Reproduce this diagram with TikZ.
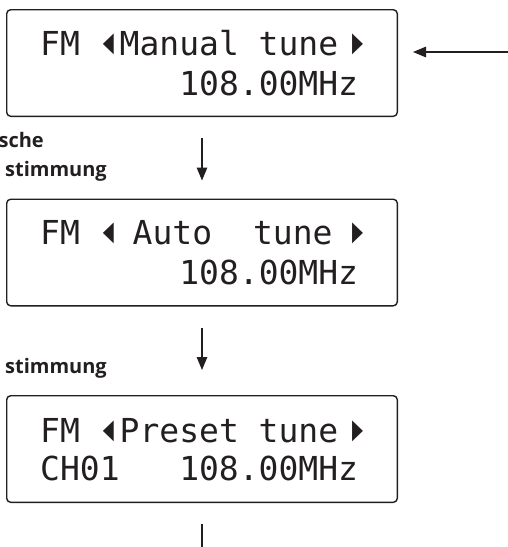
\documentclass[tikz,border=0pt]{standalone}
\usepackage{fontspec}
\usepackage{graphicx}
\usetikzlibrary{arrows.meta}
\newfontfamily\lcdfont{DejaVu Sans Mono}
\newfontfamily\trifont{DejaVu Sans}
\newfontfamily\labfont{Open Sans}
\definecolor{ink}{HTML}{231F20}
\newlength\cw \setlength\cw{19.87pt}
\newcommand\tribox[1]{\sbox0{\resizebox*{11pt}{21pt}{\trifont #1}}\raisebox{\dp0}{\usebox0}}
\newcommand\trl{\makebox[\cw][l]{\hspace{3pt}\tribox{◀}}}
\newcommand\trr{\makebox[\cw][l]{\hspace{14pt}\tribox{▶}}}
\tikzset{
  lcdbox/.style={draw=ink, line width=1.4pt, rounded corners=4pt,
    minimum width=390.6pt, minimum height=106.6pt, inner sep=0pt},
  lcd/.style={font=\lcdfont\fontsize{33}{33}\selectfont, text=ink,
    anchor=base east, inner sep=0pt},
  lcdl/.style={lcd, anchor=base west},
  lab/.style={font=\labfont\bfseries\fontsize{20}{20}\selectfont, text=ink,
    anchor=base east, inner sep=0pt},
  arr/.style={draw=ink, line width=1.3pt, -{Triangle[length=13pt,width=10.5pt]}},
  plain/.style={draw=ink, line width=1.3pt}
}
\begin{document}
\begin{tikzpicture}[x=1pt, y=-1pt]
\useasboundingbox (0,0) rectangle (508,547);
% boxes
\node[lcdbox] (b1) at (202,63) {};
\node[lcdbox] (b2) at (202,252.5) {};
\node[lcdbox] (b3) at (202,449) {};
% box 1 text
\node[lcdl] (t1a) at (40,55) {FM \trl Manual tune\trr};
\node[lcdl] (t1b) at (179.1,95) {108.00MHz};
% box 2 text
\node[lcdl] (t2a) at (40,244) {FM \trl\hspace{13pt}Auto\hspace{41pt}tune\hspace{5.5pt}\trr};
\node[lcdl] (t2b) at (179.1,284) {108.00MHz};
% box 3 text
\node[lcdl] (t3a) at (40,442) {FM \trl Preset tune\trr};
\node[lcdl] (t3b) at (40,480) {CH01\hspace{3\cw}108.00MHz};
% labels
\node[lab] (l1) at (44,147.5) {sche};
\node[lab] (l2) at (107,176) {stimmung};
\node[lab] (l3) at (107,373) {stimmung};
% connectors
\coordinate (rin) at (508,52);
\coordinate (bend) at (202,547);
\draw[arr, shorten >=15pt] (rin) -- (b1.east |- rin);
\draw[arr, shorten <=21pt, shorten >=18pt] (b1.south) -- (b2.north);
\draw[arr, shorten <=21pt, shorten >=25pt] (b2.south) -- (b3.north);
\draw[plain, shorten <=21pt] (b3.south) -- (bend);
\end{tikzpicture}
\end{document}
